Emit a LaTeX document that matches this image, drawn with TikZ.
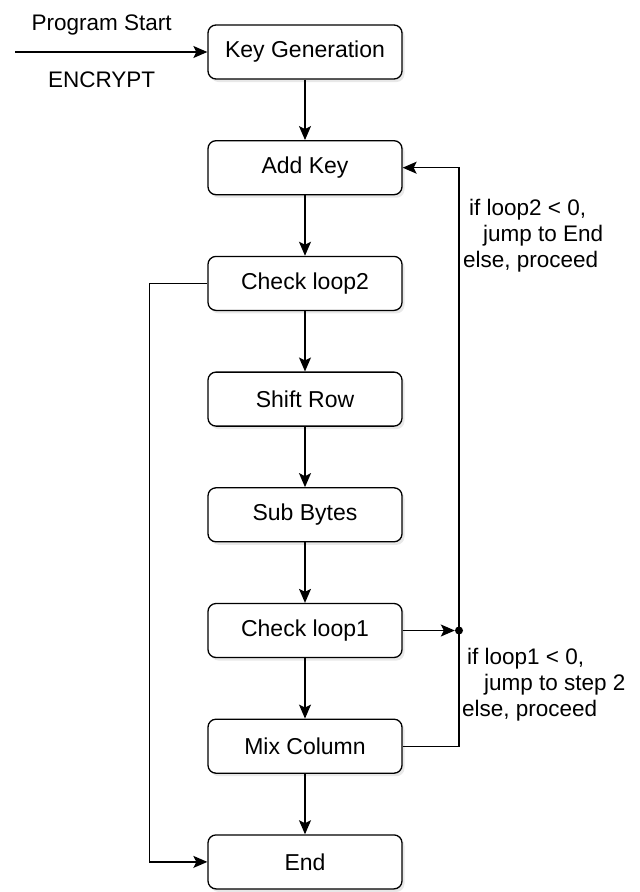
\documentclass[tikz,border=0pt]{standalone}
\usepackage{fontspec}
\setmainfont{Liberation Sans}
\usetikzlibrary{positioning, arrows.meta, shadows}

\begin{document}
\begin{tikzpicture}[x=1pt, y=-1pt, node distance=115.7pt]
                \tikzstyle{stepbox} = [rectangle, draw, rounded corners=8pt, line width=1.3pt, minimum width=194pt, minimum height=54pt, font=\fontsize{23}{26}\selectfont, fill=white, drop shadow={opacity=0.18, shadow xshift=2.5pt, shadow yshift=-3pt}]
                \tikzstyle{note} = [align=left, inner sep=0pt, font=\fontsize{22.5}{26}\selectfont]
                \tikzstyle{flow} = [line width=1.3pt, -{Stealth[length=14pt, width=12pt, inset=3pt]}]
                \useasboundingbox (0,0) rectangle (640,892);

                % Main column
                \node[stepbox] (keygen) at (305,52) {Key Generation};
                \node[stepbox] (addkey) [below of=keygen] {Add Key};
                \node[stepbox] (chk2) [below of=addkey] {Check loop2};
                \node[stepbox] (shift) [below of=chk2] {Shift Row};
                \node[stepbox] (sub) [below of=shift] {Sub Bytes};
                \node[stepbox] (chk1) [below of=sub] {Check loop1};
                \node[stepbox] (mix) [below of=chk1] {Mix Column};
                \node[stepbox] (end) [below of=mix] {End};

                % Entry point and junction on the loop line
                \coordinate (start) at (15,52);
                \node[circle, fill, inner sep=0pt, minimum size=8pt] (junc) at (459,0 |- chk1) {};

                % Branch notes
                \node[note, anchor=north west] (note2) at (463,199) {\hspace*{6pt}if loop2 < 0,\\\hspace*{20pt}jump to End\\else, proceed};
                \node[note, anchor=north west] (note1) at (462,648) {\hspace*{5pt}if loop1 < 0,\\\hspace*{22pt}jump to step 2\\else, proceed};

                % Arrows
                \draw[flow] (start) -- node[pos=0.45, yshift=27pt, font=\fontsize{22.5}{26}\selectfont] {Program Start} node[pos=0.45, yshift=-28pt, font=\fontsize{22.5}{26}\selectfont] {ENCRYPT} (keygen);
                \draw[flow] (keygen) -- (addkey);
                \draw[flow] (addkey) -- (chk2);
                \draw[flow] (chk2) -- (shift);
                \draw[flow] (shift) -- (sub);
                \draw[flow] (sub) -- (chk1);
                \draw[flow] (chk1) -- (mix);
                \draw[flow] (mix) -- (end);

                % Loops
                \draw[flow] (chk1) -- (junc);
                \draw[flow] (mix.east) -| (junc.center) |- (addkey.east);
                \draw[flow] (chk2.west) -- ++(-58,0) |- (end.west);
            \end{tikzpicture}
\end{document}
